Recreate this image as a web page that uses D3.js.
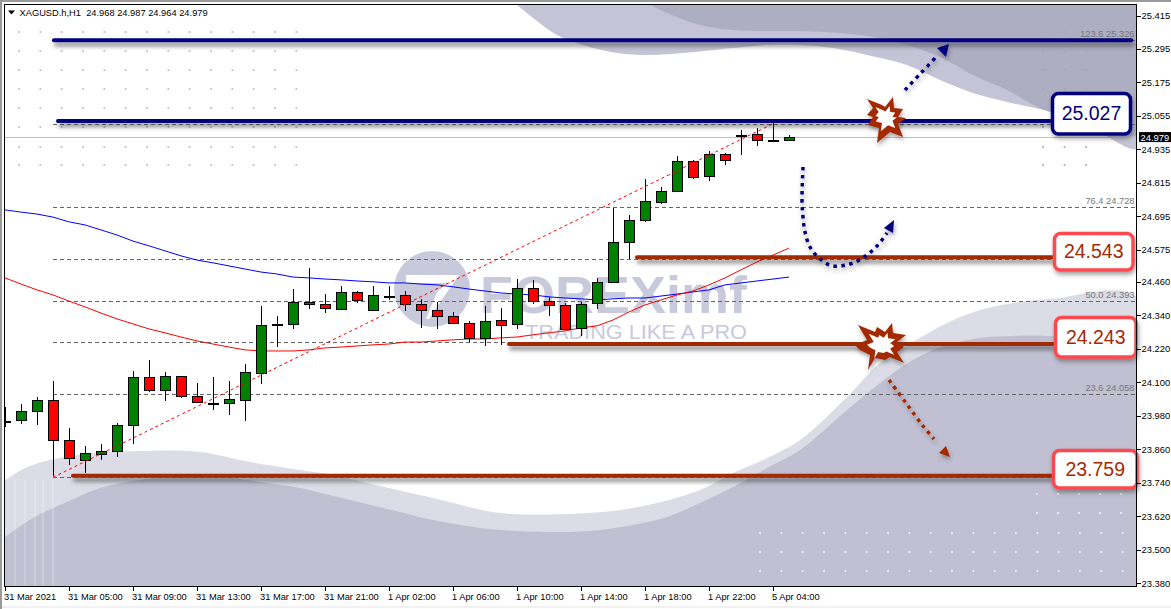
<!DOCTYPE html>
<html>
<head>
<meta charset="utf-8">
<script src="https://cdn.jsdelivr.net/npm/d3@7"></script>
<style>
    html, body { margin: 0; padding: 0; background: #fff; overflow: hidden; }
    svg { display: block; font-family: "Liberation Sans", Arial, sans-serif; }
    .axis text { font-size: 9.4px; fill: #000; font-family: "Liberation Sans", Arial, sans-serif; }
    .axis line { stroke: #000; shape-rendering: crispEdges; }
    .axis path { display: none; }
</style>
</head>
<body>
<div id="chart"></div>
<script>
// Candles, one hour each
const opens  = [23.961,23.965,23.997,24.036,23.893,23.821,23.843,23.853,23.947,24.119,24.072,24.122,24.051,24.026,24.026,24.036,24.133,24.309,24.309,24.388,24.381,24.363,24.424,24.359,24.409,24.413,24.381,24.359,24.338,24.312,24.259,24.323,24.309,24.438,24.391,24.377,24.295,24.384,24.460,24.603,24.682,24.746,24.786,24.893,24.840,24.918,24.987,24.990,24.969,24.968];
const highs  = [24.011,24.022,24.047,24.105,23.936,23.871,23.879,23.954,24.140,24.180,24.137,24.122,24.097,24.119,24.105,24.166,24.373,24.338,24.434,24.510,24.416,24.445,24.427,24.445,24.445,24.427,24.399,24.388,24.352,24.320,24.373,24.366,24.470,24.467,24.406,24.384,24.388,24.474,24.725,24.700,24.829,24.800,24.911,24.897,24.929,24.922,25.005,25.012,25.030,24.987];
const lows   = [23.940,23.950,23.947,23.764,23.803,23.775,23.821,23.832,23.879,24.065,24.033,24.044,24.029,24.000,23.983,23.961,24.094,24.226,24.291,24.363,24.348,24.363,24.384,24.359,24.395,24.355,24.295,24.291,24.312,24.244,24.230,24.234,24.291,24.381,24.338,24.291,24.266,24.363,24.460,24.542,24.675,24.739,24.782,24.829,24.822,24.879,24.915,24.947,24.969,24.964];
const closes = [23.961,23.997,24.036,23.893,23.828,23.846,23.853,23.947,24.119,24.072,24.122,24.051,24.029,24.026,24.040,24.137,24.305,24.309,24.388,24.381,24.366,24.424,24.395,24.413,24.409,24.381,24.359,24.338,24.312,24.259,24.320,24.305,24.438,24.391,24.377,24.291,24.381,24.460,24.603,24.682,24.750,24.786,24.893,24.836,24.918,24.897,24.987,24.969,24.969,24.979];

// Moving averages
const maBlue = [24.718,24.710,24.703,24.692,24.675,24.664,24.646,24.628,24.606,24.589,24.571,24.553,24.538,24.528,24.517,24.506,24.495,24.488,24.477,24.474,24.470,24.467,24.463,24.460,24.456,24.456,24.452,24.449,24.442,24.434,24.427,24.420,24.416,24.413,24.406,24.402,24.399,24.395,24.399,24.402,24.402,24.409,24.416,24.424,24.431,24.449,24.456,24.463,24.470,24.477];
const maRed  = [24.474,24.452,24.431,24.413,24.391,24.370,24.348,24.327,24.309,24.291,24.277,24.262,24.248,24.237,24.226,24.216,24.212,24.212,24.212,24.216,24.223,24.226,24.230,24.234,24.237,24.244,24.244,24.248,24.252,24.255,24.255,24.259,24.262,24.270,24.277,24.284,24.295,24.302,24.323,24.352,24.377,24.395,24.413,24.427,24.449,24.474,24.503,24.531,24.556,24.581];

// Fibonacci levels, the others have their labels behind the callouts
const fibPrices = [25.326,25.027,24.728,24.543,24.393,24.243,24.058,23.759];
const fibLabelRatios = ["123.6","76.4","50.0","23.6"];
const fibLabelPrices = [25.326,24.728,24.393,24.058];
const fibTrendBars = [3,48];
const fibTrendPrices = [23.759,25.027];

// Drawn levels, from and to in bar units
const levelPrices = [25.326,25.037,24.548,24.237,23.765];
const levelFrom   = [3.06,3.31,39.5,31.5,4.25];
const levelTo     = [70.4,65.4,65.5,65.5,65.5];
const levelColors = ["#000080","#000080","#a32a05","#a32a05","#a32a05"];

// Axis labels
const priceTicks = [25.415,25.295,25.175,25.055,24.935,24.815,24.695,24.575,24.460,24.340,24.220,24.100,23.980,23.860,23.740,23.620,23.500,23.380];
const timeBars   = [0,4,8,12,16,20,24,28,32,36,40,44,48];
const timeLabels = ["31 Mar 2021","31 Mar 05:00","31 Mar 09:00","31 Mar 13:00","31 Mar 17:00","31 Mar 21:00","1 Apr 02:00","1 Apr 06:00","1 Apr 10:00","1 Apr 14:00","1 Apr 18:00","1 Apr 22:00","5 Apr 04:00"];
const lastPrice = 24.979;
const titleText = "XAGUSD.h,H1  24.968 24.987 24.964 24.979";

const chartWidth = 1171, chartHeight = 609;
const frame = {left: 4.5, right: 1136.5, top: 4.5, bottom: 586.5};

const svg = d3.select("#chart").append("svg")
    .attr("width", chartWidth)
    .attr("height", chartHeight);

const defs = svg.append("defs");
defs.append("clipPath").attr("id", "plot")
    .append("rect").attr("x", frame.left).attr("y", frame.top)
    .attr("width", frame.right - frame.left).attr("height", frame.bottom - frame.top);
const shadow = defs.append("filter").attr("id", "shadow")
    .attr("filterUnits", "userSpaceOnUse")
    .attr("x", 0).attr("y", 0).attr("width", chartWidth).attr("height", chartHeight);
shadow.append("feDropShadow").attr("dx", 2).attr("dy", 4).attr("stdDeviation", 2)
    .attr("flood-color", "#333").attr("flood-opacity", 0.6);
const softShadow = defs.append("filter").attr("id", "softShadow")
    .attr("filterUnits", "userSpaceOnUse")
    .attr("x", 0).attr("y", 0).attr("width", chartWidth).attr("height", chartHeight);
softShadow.append("feDropShadow").attr("dx", 1).attr("dy", 3).attr("stdDeviation", 2)
    .attr("flood-color", "#333").attr("flood-opacity", 0.45);

// Scales
const x = d3.scaleLinear().domain([0, 49]).range([5, 789]);
const y = d3.scaleLinear().domain([23.38, 25.415]).range([583, 15.5]);

const plot = svg.append("g").attr("clip-path", "url(#plot)");

// Background swooshes
const curve = d3.line().curve(d3.curveCatmullRom);
function swoosh(points, color) {
    plot.append("path").attr("d", curve(points) + "Z").attr("fill", color);
}
const topLight = [[510,0],[517,5],[533,18],[557,35],[583,45],[617,53],[650,55],[683,53],[733,48],[767,45],[800,45],[833,48],[867,55],[907,65],[940,80],[973,93],[1007,102],[1050,112],[1095,130],[1140,148]];
const topDark = [[640,0],[650,5],[667,13],[700,25],[733,30],[767,31],[800,31],[840,33],[873,37],[907,45],[940,57],[973,75],[1007,90],[1040,108],[1090,122],[1140,134]];
const lowLight = [[0,483],[5,480],[30,466],[70,456],[140,451],[200,452],[250,462],[300,470],[333,475],[367,483],[433,498],[500,513],[567,514],[633,508],[700,490],[733,473],[767,458],[800,440],[847,397],[880,363],[913,342],[947,323],[980,310],[1013,303],[1050,299],[1140,299]];
const lowDark = [[0,541],[5,537],[33,518],[67,502],[100,488],[133,481],[167,477],[200,477],[233,478],[267,483],[300,488],[333,496],[367,504],[400,512],[433,520],[467,526],[500,530],[567,532],[600,530],[633,525],[667,517],[700,503],[733,487],[767,468],[800,450],[847,410],[880,383],[913,360],[947,345],[980,338],[1013,336],[1047,336],[1140,345]];

swoosh(topLight.concat([[1140,0]]), "#c4c4d6");
swoosh(topDark.concat([[1140,0]]), "#aeaec2");
swoosh(lowLight.concat([[1140,590],[0,590]]), "#dcdce6");
swoosh(lowDark.concat([[1140,590],[0,590]]), "#c0c0d2");

// White stripes at the lower left
plot.selectAll(".stripe").data([15, 25, 35, 43, 53]).enter().append("line")
    .attr("x1", d => d).attr("x2", d => d)
    .attr("y1", 480).attr("y2", 586)
    .attr("stroke", "#fff").attr("stroke-opacity", 0.35);

// Dot grids
const dotCols = d3.range(14).map(i => 19 + i * 21.33);
const dotRows = [32, 51, 70, 89, 108, 127, 147, 165];
function dots(cols, rows, color, r) {
    rows.forEach(row => {
        plot.append("g").selectAll("circle").data(cols).enter().append("circle")
            .attr("cx", d => d).attr("cy", row).attr("r", r).attr("fill", color);
    });
}
dots(dotCols, dotRows, "#babaca", 1);
dots([1043, 1064.5, 1086], dotRows, "#a5a5b8", 1);
dots(d3.range(18).map(i => 760 + i * 21.33), [533, 552, 571], "#f4f4f8", 1);
dots([1037, 1058, 1079, 1100, 1121], [494, 513], "#f4f4f8", 1);

// Watermark
const mark = plot.append("g").attr("fill", "#c8cadb");
mark.append("circle").attr("cx", 432).attr("cy", 289).attr("r", 38);
mark.append("path").attr("fill", "#fff")
    .attr("d", "M406,275H459L441,301L429,319L426,319L437,292L448,283H406Z");
mark.append("text").attr("x", 480).attr("y", 313)
    .attr("font-size", 51).attr("font-weight", "bold")
    .attr("textLength", 267).attr("lengthAdjust", "spacingAndGlyphs")
    .text("FOREXimf");
mark.append("text").attr("x", 525).attr("y", 339)
    .attr("font-size", 21)
    .attr("textLength", 222).attr("lengthAdjust", "spacingAndGlyphs")
    .text("TRADING LIKE A PRO");

// Fibonacci levels
plot.selectAll(".fib").data(fibPrices).enter().append("line")
    .attr("class", "fib")
    .attr("x1", x(3)).attr("x2", frame.right)
    .attr("y1", d => Math.round(y(d)) + 0.5).attr("y2", d => Math.round(y(d)) + 0.5)
    .attr("stroke", "#666").attr("stroke-dasharray", "4 3")
    .style("shape-rendering", "crispEdges");
plot.selectAll(".fibLabel").data(fibLabelPrices).enter().append("text")
    .attr("class", "fibLabel")
    .attr("x", 1134.5)
    .attr("y", d => y(d) - 3)
    .attr("text-anchor", "end")
    .attr("font-size", 9.3)
    .attr("fill", "#777")
    .text((d, i) => fibLabelRatios[i] + " " + d.toFixed(3));

// Current price line
plot.append("line")
    .attr("x1", frame.left).attr("x2", frame.right)
    .attr("y1", Math.round(y(lastPrice)) + 0.5).attr("y2", Math.round(y(lastPrice)) + 0.5)
    .attr("stroke", "#c0c0c0").style("shape-rendering", "crispEdges");

// Moving averages
const maLine = d3.line().x((d, i) => x(i)).y(d => y(d));
plot.append("path").attr("d", maLine(maBlue)).attr("fill", "none").attr("stroke", "#0000ff");
plot.append("path").attr("d", maLine(maRed)).attr("fill", "none").attr("stroke", "#ff0000");

// Candles
const candles = plot.selectAll(".candle").data(opens).enter().append("g")
    .attr("class", "candle")
    .style("shape-rendering", "crispEdges");
candles.append("line")
    .attr("x1", (d, i) => x(i) + 0.5).attr("x2", (d, i) => x(i) + 0.5)
    .attr("y1", (d, i) => Math.round(y(highs[i])))
    .attr("y2", (d, i) => Math.round(y(lows[i])))
    .attr("stroke", "#000");
candles.append("rect")
    .attr("x", (d, i) => x(i) - 4.5)
    .attr("y", (d, i) => Math.round(y(Math.max(d, closes[i]))) + 0.5)
    .attr("width", 10)
    .attr("height", (d, i) => Math.max(1, Math.round(y(Math.min(d, closes[i]))) - Math.round(y(Math.max(d, closes[i])))))
    .attr("fill", (d, i) => d === closes[i] ? "#000" : (closes[i] > d ? "#008000" : "#ff0000"))
    .attr("stroke", "#000");

// Fibonacci trend line
plot.append("line")
    .attr("x1", x(fibTrendBars[0])).attr("y1", y(fibTrendPrices[0]))
    .attr("x2", x(fibTrendBars[1])).attr("y2", y(fibTrendPrices[1]))
    .attr("stroke", "#ff0000").attr("stroke-dasharray", "3 3");

// Heavy levels
plot.selectAll(".level").data(levelPrices).enter().append("line")
    .attr("class", "level")
    .attr("x1", (d, i) => x(levelFrom[i])).attr("x2", (d, i) => x(levelTo[i]))
    .attr("y1", d => y(d)).attr("y2", d => y(d))
    .attr("stroke", (d, i) => levelColors[i])
    .attr("stroke-width", 4)
    .attr("stroke-linecap", "round")
    .attr("filter", "url(#shadow)");

// Dotted arrows
const arrowPath = d3.line().curve(d3.curveCatmullRom);
function arrow(points, head, color) {
    const g = plot.append("g").attr("filter", "url(#softShadow)");
    g.append("path").attr("d", arrowPath(points))
        .attr("fill", "none").attr("stroke", color)
        .attr("stroke-width", 3.5).attr("stroke-dasharray", "3.5 4.5");
    g.append("polygon").attr("points", head.join(" ")).attr("fill", color);
}
arrow([[905,90],[921,73],[938,55]], [[949,44],[937,48],[946,57]], "#000080");
arrow([[803,167],[802,200],[803,217],[805,232],[810,247],[820,259],[833,266],[850,264],[864,257],[877,246],[887,233]],
    [[894,220],[884,228],[893,233]], "#000080");
arrow([[889,380],[906,403],[923,426],[934,439]], [[950,457],[946,446],[939,453]], "#a32a05");

// Bursts
const burstA = [[867,99],[882,105],[885,107],[893,97],[894,108],[903,109],[898,117],[906,118],[898,124],[903,137],[890,132],[877,143],[879,128],[868,125],[873,117],[867,115],[873,108]];
const burstB = [[858,325],[875,332],[877,327],[885,332],[892,323],[893,333],[906,335],[897,342],[904,347],[897,352],[904,363],[890,357],[885,360],[875,358],[868,370],[870,355],[860,350],[855,345],[867,340]];
function burst(points) {
    const cx = d3.mean(points, d => d[0]), cy = d3.mean(points, d => d[1]);
    const g = plot.append("g").attr("filter", "url(#softShadow)");
    g.append("polygon").attr("points", points.join(" ")).attr("fill", "#a32a05");
    g.append("polygon")
        .attr("points", points.map(d => [cx + (d[0] - cx) * 0.55, cy + (d[1] - cy) * 0.55]).join(" "))
        .attr("fill", "#fff");
}
burst(burstA);
burst(burstB);

// Price callouts
const callouts = [
    {text: "25.027", x0: 1052.5, y0: 93.5, x1: 1130.5, y1: 134, stroke: "#000080", fill: "#000080"},
    {text: "24.543", x0: 1054.5, y0: 233.5, x1: 1133, y1: 270, stroke: "#ff4a4f", fill: "#a32a05"},
    {text: "24.243", x0: 1055.5, y0: 317.5, x1: 1136, y1: 357, stroke: "#ff4a4f", fill: "#a32a05"},
    {text: "23.759", x0: 1053.5, y0: 450.5, x1: 1137, y1: 488, stroke: "#ff4a4f", fill: "#a32a05"}
];
const callout = svg.selectAll(".callout").data(callouts).enter().append("g").attr("class", "callout");
callout.append("rect")
    .attr("x", d => d.x0).attr("y", d => d.y0)
    .attr("width", d => d.x1 - d.x0).attr("height", d => d.y1 - d.y0)
    .attr("rx", 6)
    .attr("fill", "#fff").attr("stroke", d => d.stroke).attr("stroke-width", 3.5)
    .attr("filter", "url(#softShadow)");
callout.append("text")
    .attr("x", d => (d.x0 + d.x1) / 2)
    .attr("y", d => (d.y0 + d.y1) / 2 + 6.5)
    .attr("text-anchor", "middle")
    .attr("font-size", 19.5)
    .attr("fill", d => d.fill)
    .text(d => d.text);

// Axes
const xAxis = d3.axisBottom(x).tickValues(timeBars).tickSize(4).tickPadding(3)
    .tickFormat((d, i) => timeLabels[i]);
const xAxisGroup = svg.append("g").attr("class", "x-axis axis")
    .attr("transform", `translate(0, ${frame.bottom})`).call(xAxis);
xAxisGroup.selectAll("text").attr("text-anchor", "start").attr("dx", -1.5).style("font-size", "9.3px");

const yAxis = d3.axisRight(y).tickValues(priceTicks).tickSize(4).tickPadding(1)
    .tickFormat(d3.format(".3f"));
svg.append("g").attr("class", "y-axis axis")
    .attr("transform", `translate(${frame.right}, 0)`).call(yAxis);

// Frame
svg.append("rect")
    .attr("x", frame.left).attr("y", frame.top)
    .attr("width", frame.right - frame.left).attr("height", frame.bottom - frame.top)
    .attr("fill", "none").attr("stroke", "#000")
    .style("shape-rendering", "crispEdges");
svg.append("path").attr("d", "M1,609V1H1171").attr("fill", "none").attr("stroke", "#9a9a9a").attr("stroke-width", 2);
svg.append("line").attr("x1", 2).attr("x2", chartWidth).attr("y1", 607).attr("y2", 607).attr("stroke", "#e2e2e2");

// Last price tag
svg.append("rect")
    .attr("x", 1139).attr("y", y(lastPrice) - 5).attr("width", 32).attr("height", 10).attr("fill", "#000");
svg.append("text")
    .attr("x", 1140.5).attr("y", y(lastPrice) + 3.5)
    .attr("font-size", 9.4).attr("fill", "#fff")
    .text(lastPrice.toFixed(3));

// Title
svg.append("path").attr("d", "M8,10.5H15L11.5,14.5Z").attr("fill", "#000");
svg.append("text")
    .attr("x", 19.5).attr("y", 16)
    .attr("font-size", 9.3).attr("fill", "#000")
    .style("white-space", "pre")
    .text(titleText);
</script>
</body>
</html>
